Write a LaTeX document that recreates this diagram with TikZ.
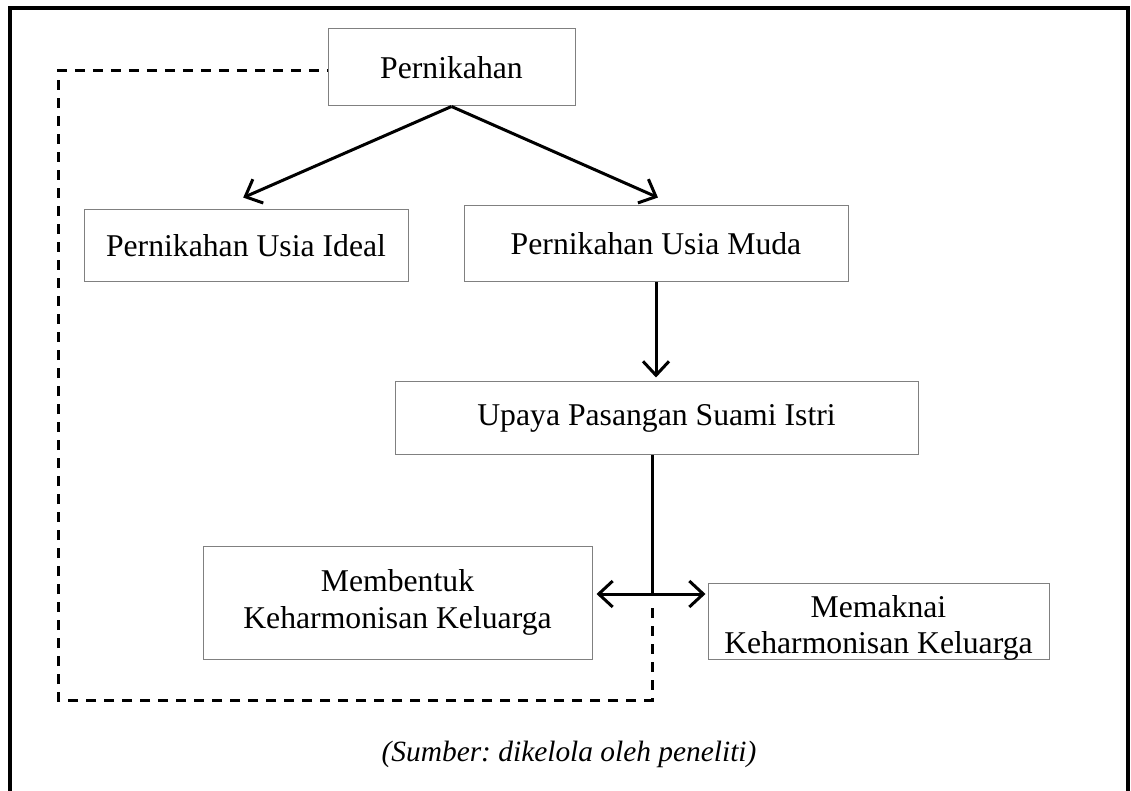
\documentclass[tikz,border=0pt]{standalone}
\usepackage{fontspec}
\setmainfont{Liberation Serif}
\frenchspacing
\usetikzlibrary{arrows.meta}
\tikzset{kotak/.style={draw=gray,line width=0.5pt,inner sep=0pt,align=center,font=\fontsize{15.85}{18.3}\selectfont},
  panah/.style={-{Straight Barb[length=7pt,width=13pt]},line width=1.5pt},
  garisputus/.style={line width=1.5pt,dash pattern=on 5pt off 4pt}}

\begin{document}
\begin{tikzpicture}[x=0.5pt,y=-0.5pt]
    \useasboundingbox (0,0) rectangle (1131,791);
    \draw[line width=2pt] (10,791)--(10,8)--(1128,8)--(1128,791);
    \node[kotak,minimum width=123.5pt,minimum height=38.5pt] (pern) at (451.5,67.5) {Pernikahan};
    \node[kotak,minimum width=162pt,minimum height=36pt] (ideal) at (246,246) {Pernikahan Usia Ideal};
    \node[kotak,minimum width=192pt,minimum height=38pt] (muda) at (656,244) {Pernikahan Usia Muda};
    \node[kotak,minimum width=261.5pt,minimum height=36.5pt] (upaya) at (656.5,418.5) {Upaya Pasangan Suami Istri};
    \node[kotak,minimum width=194.5pt,minimum height=56.5pt] (membentuk) at (397.5,602.5) {Membentuk\\Keharmonisan Keluarga};
    \node[kotak,minimum width=170.5pt,minimum height=38pt,text height=32.7pt,text depth=0pt] (memaknai) at (878.5,621) {Memaknai\\Keharmonisan Keluarga};
    \node[font=\fontsize{14.7}{17}\selectfont\itshape] (sumber) at (569,754) {(Sumber: dikelola oleh peneliti)};
    \coordinate (simpang) at (652,594);
    \coordinate (putus) at (652,608);
    \coordinate (sudut) at (58,700);
    \draw[panah,shorten >=14.85pt] (pern.south) -- ([xshift=-15pt]ideal.north);
    \draw[panah,shorten >=9.85pt] (pern.south) -- ([xshift=10pt]muda.north);
    \draw[panah,shorten >=2pt] (muda.south) -- (muda.south |- upaya.north);
    \draw[line width=1.5pt] (upaya.south -| simpang) -- (simpang);
    \draw[panah,shorten >=2pt] (simpang) -- (membentuk.east |- simpang);
    \draw[panah,shorten >=1pt] (simpang) -- (memaknai.west |- simpang);
    \draw[garisputus] (putus) |- (sudut) |- ([yshift=-1.75pt]pern.west);
\end{tikzpicture}
\end{document}
